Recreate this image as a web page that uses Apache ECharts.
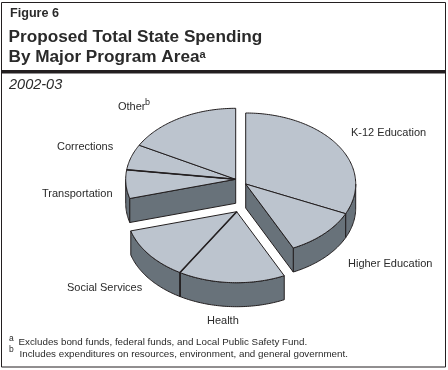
<!DOCTYPE html>
<html><head><meta charset="utf-8">
<style>html,body{margin:0;padding:0;background:#fff}#c{width:448px;height:370px}</style>
<script src="https://cdn.jsdelivr.net/npm/echarts@6/dist/echarts.min.js"></script>
</head><body><div id="c"></div>
<script>
const categories = ['K-12 Education','Higher Education','Health','Social Services','Transportation','Corrections','Other'];
const shares = [31.8, 11.0, 15.7, 12.0, 6.5, 5.8, 17.0];
const sliceGroup = [0,0,1,1,2,2,2];
const groupApex = [[245.7,184],[236.7,211.7],[235.7,179.3]];
const labelAnchor = [[351,133],[348,264],[207,321],[67,288],[42,194],[57,147],[118,107]];
const heavyEdges = [2,4];
const RX=110, RY=71, DEPTH=24;
const TOP='#bcc4ce', WALL='#68727a', INK='#231f20', FONT='"Liberation Sans",Arial,sans-serif';

const total = shares.reduce((a,b)=>a+b,0);
const cum=[0]; shares.forEach((v,i)=>cum.push(cum[i]+v/total*360));
const pt=(a,t,dy)=>{const r=t*Math.PI/180;return [a[0]+RX*Math.sin(r),a[1]-RY*Math.cos(r)+(dy||0)];};
const arc=(a,t1,t2,dy)=>{const n=Math.max(2,Math.ceil(Math.abs(t2-t1)));const o=[];for(let i=0;i<=n;i++)o.push(pt(a,t1+(t2-t1)*i/n,dy));return o;};
const poly=(points,fill,z2,lw)=>({type:'polygon',z2,shape:{points},style:{fill,stroke:INK,lineWidth:lw||1,lineJoin:'round'}});

function renderItem(params,api){
  const i=params.dataIndex, g=sliceGroup[i], a=groupApex[g];
  const t1=cum[i], t2=t1+api.value(0)/total*360, kids=[];
  const w1=Math.max(t1,90), w2=Math.min(t2,270);
  if(w2>w1) kids.push(poly(arc(a,w1,w2,0).concat(arc(a,w2,w1,DEPTH)),WALL,1));
  if(sliceGroup[i-1]!==g && -Math.sin(t1*Math.PI/180)>0){
    const p=pt(a,t1); kids.push(poly([a,p,[p[0],p[1]+DEPTH],[a[0],a[1]+DEPTH]],WALL,1));
  }
  if(sliceGroup[i+1]!==g && Math.sin(t2*Math.PI/180)>0){
    const p=pt(a,t2); kids.push(poly([a,p,[p[0],p[1]+DEPTH],[a[0],a[1]+DEPTH]],WALL,1));
  }
  kids.push(poly([a].concat(arc(a,t1,t2,0)),TOP,3));
  if(heavyEdges.includes(i)){
    const p=pt(a,t2);
    kids.push({type:'line',z2:4,shape:{x1:a[0],y1:a[1],x2:p[0],y2:p[1]},style:{stroke:INK,lineWidth:1.6}});
    if(t2>90&&t2<270) kids.push({type:'line',z2:4,shape:{x1:p[0],y1:p[1],x2:p[0],y2:p[1]+DEPTH},style:{stroke:INK,lineWidth:1.6}});
  }
  return {type:'group',children:kids};
}
const txt=(text,x,y,font)=>({type:'text',x,y,silent:true,style:{text,fill:'#2a2a2a',font:font+' '+FONT,verticalAlign:'middle'}});
const labels=categories.map((c,i)=>txt(c,labelAnchor[i][0],labelAnchor[i][1],'11px'));
const chart=echarts.init(document.getElementById('c'),null,{renderer:'canvas'});
chart.setOption({
  animation:false,backgroundColor:'#fff',
  series:[{type:'custom',coordinateSystem:'none',renderItem,silent:true,clip:false,data:shares.map(v=>[v])}],
  graphic:[
    {type:'rect',silent:true,shape:{x:1.5,y:2.5,width:444,height:364.5},style:{fill:'none',stroke:INK,lineWidth:1}},
    {type:'rect',silent:true,shape:{x:1,y:70,width:445,height:3.6},style:{fill:INK}},
    txt('Figure 6',10,13.5,'bold 12.6px'),
    txt('Proposed Total State Spending',8.5,37,'bold 17.2px'),
    txt('By Major Program Area',8.5,57,'bold 17.2px'),
    txt('a',199.5,54.5,'bold 11px'),
    txt('2002-03',9,84.7,'italic 14.5px'),
    txt('b',145,103,'9px'),
    txt('a',9,339,'8.5px'),
    txt('Excludes bond funds, federal funds, and Local Public Safety Fund.',18.5,342.7,'9.8px'),
    txt('b',9,349.3,'8.5px'),
    txt('Includes expenditures on resources, environment, and general government.',19.5,354.3,'9.8px')
  ].concat(labels)
});
</script></body></html>
